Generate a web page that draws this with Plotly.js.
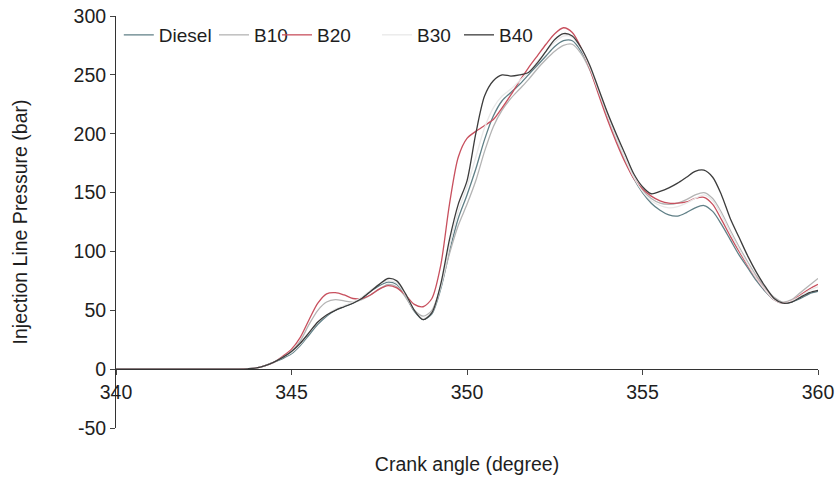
<!DOCTYPE html>
<html>
<head>
<meta charset="utf-8">
<script src="https://cdn.plot.ly/plotly-3.0.1.min.js"></script>
<style>html,body{margin:0;padding:0;background:#fff;}#chart{width:836px;height:481px;}</style>
</head>
<body>
<div id="chart"></div>
<script>
const crankAngle = [340,340.25,340.5,340.75,341,341.25,341.5,341.75,342,342.25,342.5,342.75,343,343.25,343.5,343.75,
344,344.25,344.5,344.75,345,345.25,345.5,345.75,346,346.25,346.5,346.75,347,347.25,347.5,347.75,
348,348.25,348.5,348.75,349,349.25,349.5,349.75,350,350.25,350.5,350.75,351,351.25,351.5,351.75,
352,352.25,352.5,352.75,353,353.25,353.5,353.75,354,354.25,354.5,354.75,355,355.25,355.5,355.75,
356,356.25,356.5,356.75,357,357.25,357.5,357.75,358,358.25,358.5,358.75,359,359.25,359.5,359.75,360];

const diesel = [0,0,0,0,0,0,0,0,0,0,0,0,0,0,0,0.3,
1,3,6,9,13,20,29,38,45,50,53,56,60,66,71,74,
72,62,49,42,47,68,100,128,148,170,195,215,228,235,242,250,
258,266,274,279,279,270,255,236,216,197,178,162,150,141,135,131,
130,133,137,139,134,123,110,97,86,75,66,59,56,57,60,64,66];

const b10 = [0,0,0,0,0,0,0,0,0,0,0,0,0,0,0,0.3,
1,3,6,10,15,24,38,50,57,59,58,57,59,63,68,72,
70,61,50,45,50,70,98,122,140,160,185,206,220,230,238,246,
255,263,270,275,276,268,254,235,215,196,178,163,152,145,141,140,
141,144,148,150,145,133,118,104,91,79,69,61,57,59,65,71,77];

const b20 = [0,0,0,0,0,0,0,0,0,0,0,0,0,0,0,0.4,
1,3,6,11,17,27,42,56,64,65,63,60,60,63,68,71,
69,63,55,53,60,88,140,180,196,202,207,212,222,233,245,256,
266,276,285,290,286,273,255,233,212,193,176,162,153,147,143,141,
141,142,145,146,140,127,113,100,88,77,67,59,56,58,63,68,72];

const b30 = [0,0,0,0,0,0,0,0,0,0,0,0,0,0,0,0.3,
1,3,6,10,14,21,31,40,46,51,54,57,61,67,72,75,
73,63,50,43,48,70,104,134,155,180,205,222,232,238,245,252,
261,270,278,283,282,272,256,236,216,197,179,163,151,143,139,137,
138,141,145,148,143,131,116,102,89,77,67,59,56,58,62,67,70];

const b40 = [0,0,0,0,0,0,0,0,0,0,0,0,0,0,0,0.3,
1,3,6,10,15,22,31,40,46,50,53,56,60,66,72,77,
75,64,50,42,48,72,110,140,160,200,232,245,250,249,250,252,
260,270,280,285,283,273,258,238,218,200,183,166,155,149,151,154,
158,163,168,169,163,148,128,112,96,82,70,60,56,57,61,65,67];

const xTicks = [340,345,350,355,360];
const yTicks = [-50,0,50,100,150,200,250,300];
const yTickText = ['-50','0','50','100','150','200','250','300'];

const seriesNames = ['Diesel','B10','B20','B30','B40'];
const seriesData = [diesel, b10, b20, b30, b40];
const seriesColors = ['#5f7f86','#b4b4b4','#c8505e','#e8e8e8','#3c3c3c'];
const legendIds = ['legend','legend2','legend3','legend4','legend5'];
const legendX = [0.004, 0.1396, 0.2293, 0.3718, 0.4886];

const traces = seriesNames.map((n,i)=>({
  x: crankAngle, y: seriesData[i], name: n, type:'scatter', mode:'lines',
  legend: legendIds[i],
  line:{color:seriesColors[i], width:1.3, shape:'spline', smoothing:0.8}
}));

const fam = '"Liberation Sans", Arial, sans-serif';
const f = (s)=>({family:fam, size:s, color:'#1e1e1e'});

const layout = {
  width:836, height:481,
  margin:{l:116, r:18, t:16, b:53},
  paper_bgcolor:'#fff', plot_bgcolor:'#fff',
  font: f(19),
  showlegend:true,
  xaxis:{range:[340,360], tickvals:xTicks, ticks:'outside', ticklen:5,
    showline:true, linecolor:'#333', linewidth:1, showgrid:false, zeroline:false,
    anchor:'free', position:50/350, tickfont:f(19.5),
    title:{text:'Crank angle (degree)', font:f(19.5), standoff:55}},
  yaxis:{range:[-50,300], tickvals:yTicks, ticktext:yTickText, ticks:'outside', ticklen:5,
    showline:true, linecolor:'#333', linewidth:1, showgrid:false, zeroline:false,
    tickfont:f(19.5),
    title:{text:'Injection Line Pressure (bar)', font:f(19.5), standoff:40}}
};
legendIds.forEach((id,i)=>{
  layout[id] = {orientation:'h', x:legendX[i], xanchor:'left', y:1, yanchor:'top',
    font:f(19), bgcolor:'rgba(0,0,0,0)', itemwidth:30};
});

Plotly.newPlot('chart', traces, layout, {displayModeBar:false, staticPlot:true});
</script>
</body>
</html>
